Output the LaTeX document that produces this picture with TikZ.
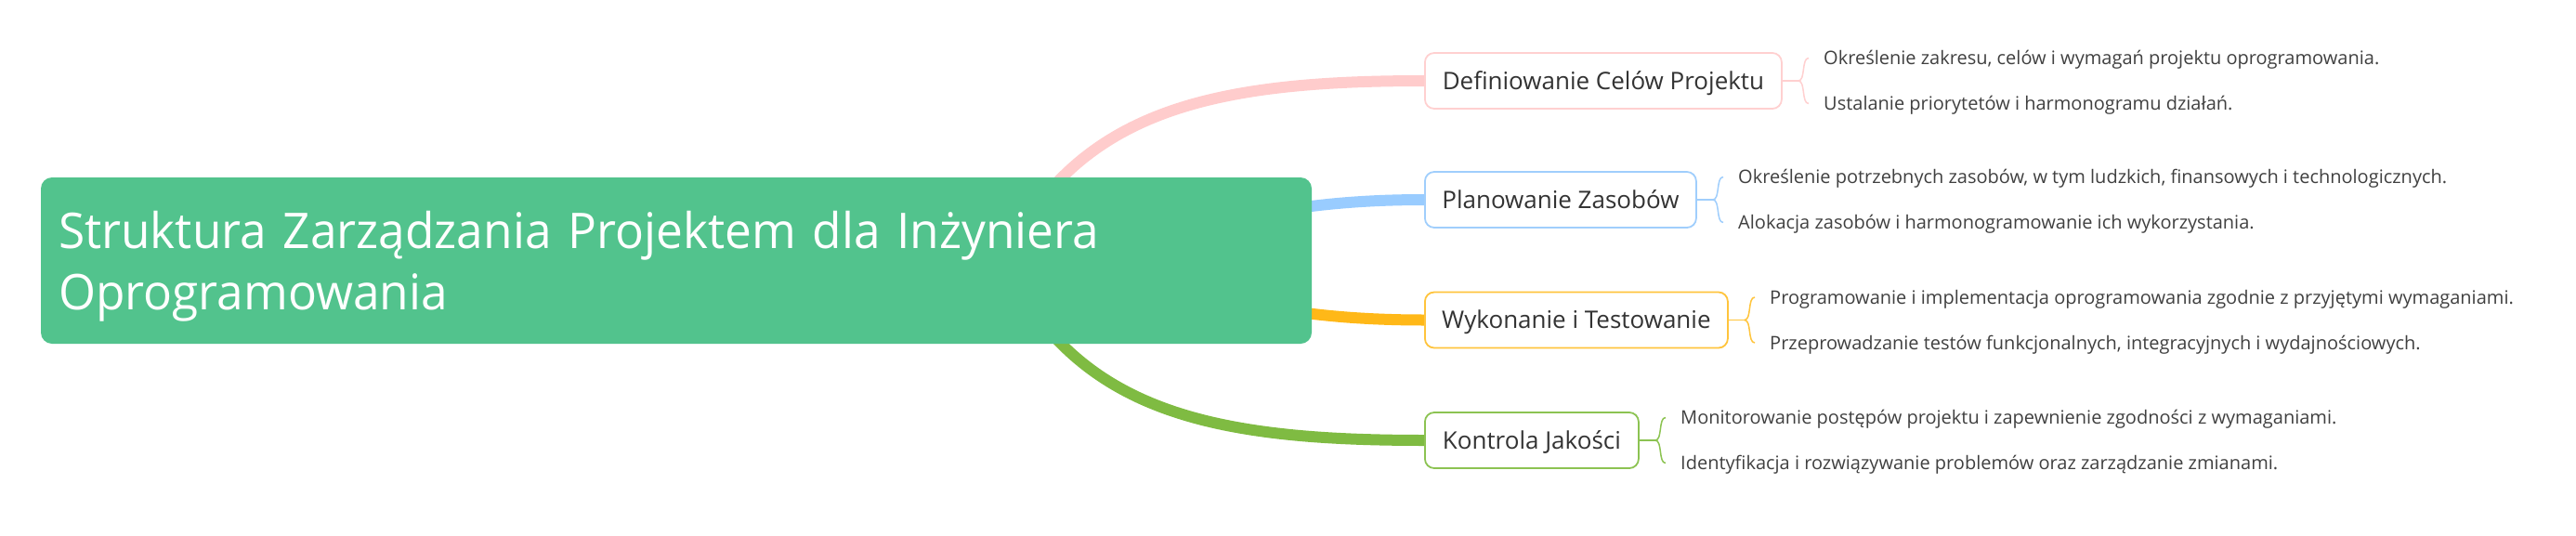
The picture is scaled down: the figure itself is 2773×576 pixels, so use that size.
\documentclass[tikz,border=0pt]{standalone}
\usepackage{fontspec}
\setmainfont{Open Sans}
\newfontfamily\rootfont{Open Sans}[FakeStretch=0.97]
\usetikzlibrary{backgrounds}
\definecolor{rootG}{RGB}{82,195,141}
\definecolor{pinkE}{RGB}{255,204,204}
\definecolor{pinkB}{RGB}{255,208,208}
\definecolor{blueE}{RGB}{153,204,255}
\definecolor{blueB}{RGB}{160,206,252}
\definecolor{orangeE}{RGB}{255,184,24}
\definecolor{orangeB}{RGB}{255,196,60}
\definecolor{greenE}{RGB}{127,187,66}
\definecolor{greenB}{RGB}{140,195,82}
\definecolor{txt}{RGB}{51,51,51}
\definecolor{leaftxt}{RGB}{64,64,64}
\tikzset{
  rootbox/.style={fill=rootG, rounded corners=12pt, minimum width=1368pt, minimum height=179pt,
    text width=1330pt, inner xsep=19pt, inner ysep=0pt, align=left, text=white, text depth=66pt,
    font=\rootfont\fontsize{53}{66}\selectfont},
  topic/.style={draw, line width=1.8pt, fill=white, rounded corners=10pt, minimum height=60pt,
    inner sep=0pt, text=txt, font=\fontsize{26}{30}\selectfont, text height=18.6pt, text depth=0pt, anchor=west},
  leaf/.style={inner sep=0pt, text=leaftxt, font=\fontsize{20}{24}\selectfont, text height=14.3pt, text depth=0pt, anchor=west},
  branch/.style={line width=12pt, line cap=round},
  brace/.style={line width=1.5pt}
}
\begin{document}
\begin{tikzpicture}[x=1pt,y=-1pt]
\useasboundingbox (0,0) rectangle (2773,576);
\node[rootbox] (root) at (728,280.5) {Struktura Zarządzania Projektem dla Inżyniera\\Oprogramowania};
\coordinate (rs) at (1080,281);
\node[topic, draw=pinkB, minimum width=384pt] (t1) at (1533,87) {Definiowanie Celów Projektu};
\node[topic, draw=blueB, minimum width=292pt] (t2) at (1533,215) {Planowanie Zasobów};
\node[topic, draw=orangeB, minimum width=326pt] (t3) at (1533,344.5) {Wykonanie i Testowanie};
\node[topic, draw=greenB, minimum width=230pt] (t4) at (1533,474) {Kontrola Jakości};
\node[leaf] (l11) at (1963,62.5) {Określenie zakresu, celów i wymagań projektu oprogramowania.};
\node[leaf] (l12) at (1963,111.5) {Ustalanie priorytetów i harmonogramu działań.};
\node[leaf] (l21) at (1871,190.5) {Określenie potrzebnych zasobów, w tym ludzkich, finansowych i technologicznych.};
\node[leaf] (l22) at (1871,239.5) {Alokacja zasobów i harmonogramowanie ich wykorzystania.};
\node[leaf] (l31) at (1905,320) {Programowanie i implementacja oprogramowania zgodnie z przyjętymi wymaganiami.};
\node[leaf] (l32) at (1905,369) {Przeprowadzanie testów funkcjonalnych, integracyjnych i wydajnościowych.};
\node[leaf] (l41) at (1809,449.5) {Monitorowanie postępów projektu i zapewnienie zgodności z wymaganiami.};
\node[leaf] (l42) at (1809,498.5) {Identyfikacja i rozwiązywanie problemów oraz zarządzanie zmianami.};
\begin{pgfonlayer}{background}
\draw[branch, pinkE] (rs) .. controls (1160,120) and (1300,87) .. (t1.west);
\draw[branch, blueE] (rs) .. controls (1250,281) and (1300,215) .. (t2.west);
\draw[branch, orangeE] (rs) .. controls (1250,281) and (1300,344.5) .. (t3.west);
\draw[branch, greenE] (rs) .. controls (1160,442) and (1300,474) .. (t4.west);
\end{pgfonlayer}
\foreach \t/\a/\b/\c in {t1/l11/l12/pinkB, t2/l21/l22/blueB, t3/l31/l32/orangeB, t4/l41/l42/greenB}{
  \draw[brace, \c] (\t.east) -- ([xshift=17pt]\t.east) coordinate (tip\t);
  \draw[brace, \c] (tip\t) .. controls +(8,0) and ([xshift=-24pt]\a.west) .. ([xshift=-16pt]\a.west);
  \draw[brace, \c] (tip\t) .. controls +(8,0) and ([xshift=-24pt]\b.west) .. ([xshift=-16pt]\b.west);
}
\end{tikzpicture}
\end{document}
